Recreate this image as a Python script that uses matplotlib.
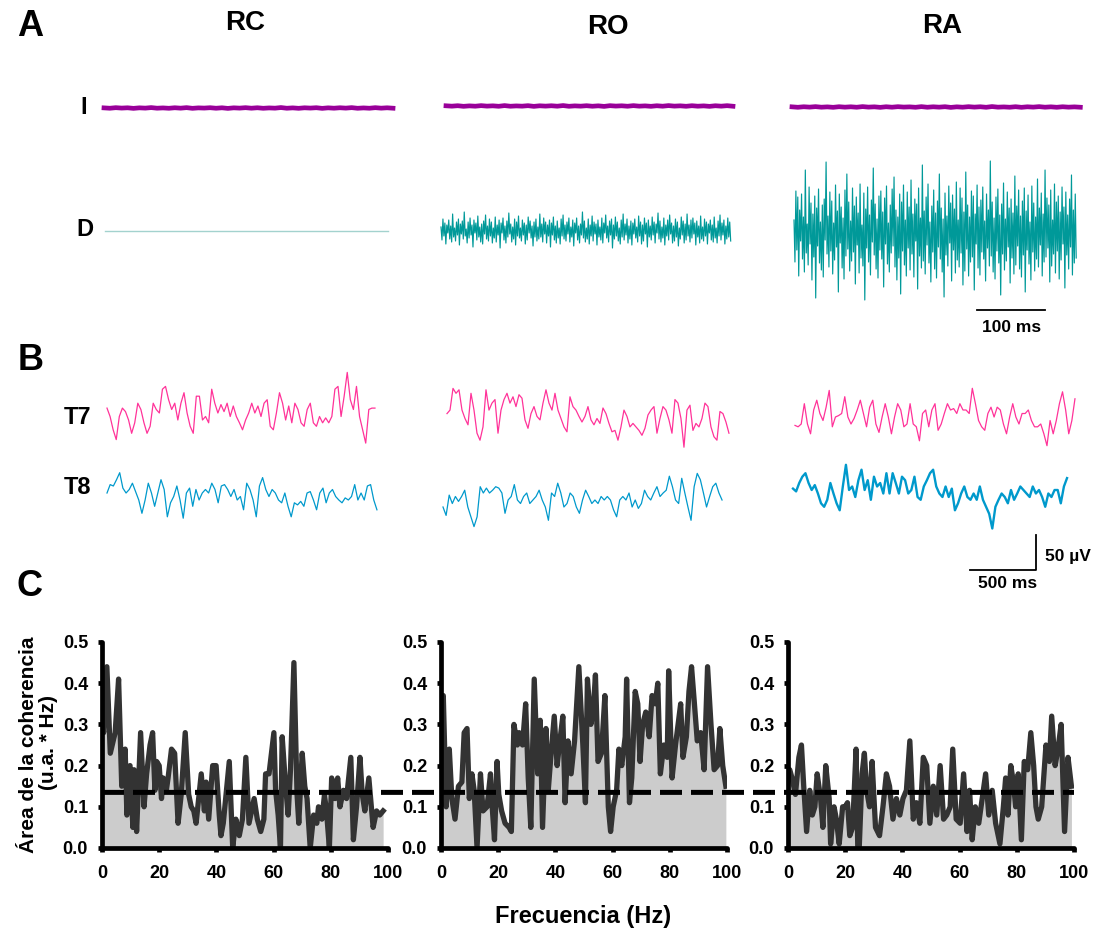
import numpy as np
import matplotlib
matplotlib.use('Agg')
import matplotlib.pyplot as plt
from matplotlib.patches import ConnectionPatch

# ---------------- data ----------------
conditions = ['RC', 'RO', 'RA']

# Panel A: I traces (small fluctuations, arbitrary units)
I_RC = [0.3, -0.6, 0.8, -0.2, 0.5, -0.9, 0.4, -0.3, 1.0, -0.5, 0.2, -0.7, 0.6, -0.4, 0.9, -0.8, 0.3, -0.2, 0.7, -0.6,
        0.5, -1.0, 0.4, -0.3, 0.8, -0.5, 0.6, -0.7, 0.2, -0.4, 1.1, -0.6, 0.3, -0.8, 0.5, -0.2, 0.7, -0.9, 0.4, -0.5,
        0.6, -0.3, 0.9, -0.7, 0.2, -0.6, 0.8, -0.4, 0.5, -0.5]
I_RO = [0.5, -0.4, 0.7, -0.8, 0.3, -0.5, 0.9, -0.3, 0.4, -0.7, 1.0, -0.6, 0.2, -0.4, 0.8, -0.9, 0.5, -0.3, 0.6, -0.5,
        1.1, -0.7, 0.3, -0.4, 0.7, -0.6, 0.4, -1.0, 0.8, -0.2, 0.5, -0.6, 0.9, -0.4, 0.3, -0.8, 0.6, -0.5, 1.0, -0.3,
        0.4, -0.7, 0.7, -0.5, 0.3, -0.9, 0.6, -0.4, 0.8, -0.6]
I_RA = [0.4, -0.7, 0.6, -0.3, 0.9, -0.5, 0.3, -0.8, 0.7, -0.4, 0.5, -0.6, 1.0, -0.3, 0.4, -0.9, 0.6, -0.5, 0.8, -0.2,
        0.3, -0.7, 0.9, -0.6, 0.5, -0.4, 0.7, -1.0, 0.4, -0.5, 0.8, -0.3, 0.6, -0.7, 1.1, -0.4, 0.2, -0.6, 0.7, -0.8,
        0.5, -0.3, 0.9, -0.5, 0.4, -0.7, 0.6, -0.4, 0.3, -0.6]

# Panel A: D traces (arbitrary units)
D_RC = [0.0, 0.0]
D_RO = [4, -9, 12, -5, 8, -13, 6, -2, 11, -8, 5, -11, 17, -6, 3, -10, 9, -4, 12, -14,
        7, -3, 10, -8, 19, -5, 2, -12, 9, -7, 13, -4, 6, -16, 11, -2, 8, -9, 15, -6,
        4, -11, 7, -13, 10, -3, 16, -8, 5, -10, 12, -5, 9, -12, 3, -7, 14, -11, 6, -4,
        11, -17, 8, -2, 13, -9, 5, -12, 10, -6, 18, -3, 7, -11, 4, -8, 12, -14, 9, -5,
        15, -7, 3, -10, 11, -4, 8, -13, 6, -9, 14, -2, 10, -7, 5, -15, 9, -6, 12, -10,
        4, -8, 17, -6, 7, -11, 13, -3, 9, -12, 6, -5, 11, -16, 8, -4, 14, -9, 5, -12,
        10, -7, 3, -13, 12, -5, 16, -8, 6, -10, 9, -3, 13, -11, 4, -6, 11, -15, 8, -2,
        13, -9, 5, -12, 7, -4, 19, -7, 10, -11, 3, -8, 12, -13, 6, -5, 15, -10, 9, -3,
        7, -14, 11, -6, 4, -9, 13, -12, 8, -2, 16, -7, 5, -11, 10, -4, 12, -17, 6, -8,
        14, -5, 9, -10, 3, -13, 11, -6, 17, -9, 7, -4, 12, -12, 5, -8, 10, -14, 8, -3,
        12, -7, 4, -11, 15, -5, 9, -13, 6, -10, 13, -3, 8, -16, 11, -6, 5, -9, 14, -4,
        9, -12, 7, -2, 18, -8, 10, -11, 4, -7, 13, -14, 6, -5, 11, -9, 16, -3, 8, -12,
        5, -10, 12, -6, 9, -15, 3, -8, 14, -4, 10, -12, 7, -9, 17, -5, 6, -11, 11, -7,
        13, -3, 8, -14, 10, -6, 5, -12, 15, -8, 4, -10, 12, -5, 9, -13, 7, -2, 11, -9,
        6, -11, 14, -7, 3, -12, 10, -5, 16, -9, 8, -4, 11, -13, 5, -8, 13, -6, 9, -10]
D_RA = [12, -30, 41, -18, 35, -44, 22, -9, 38, -27, 15, -40, 62, -21, 8, -33, 45, -12, 29, -48,
        18, -25, 36, -66, 24, -14, 43, -31, 10, -38, 27, -45, 33, -8, 70, -22, 16, -35, 40, -19,
        31, -42, 9, -28, 47, -15, 21, -60, 38, -11, 25, -36, 14, -47, 42, -24, 58, -17, 30, -39,
        11, -29, 44, -20, 26, -52, 35, -13, 19, -41, 48, -26, 7, -34, 39, -68, 23, -16, 45, -30,
        17, -43, 32, -10, 64, -23, 28, -37, 13, -46, 36, -18, 41, -27, 20, -55, 34, -12, 46, -32,
        9, -40, 27, -21, 43, -14, 55, -35, 22, -48, 15, -26, 38, -62, 30, -19, 47, -33, 12, -44,
        40, -16, 25, -38, 52, -22, 18, -45, 33, -9, 28, -57, 44, -24, 14, -36, 67, -29, 21, -42,
        35, -13, 48, -31, 10, -50, 26, -20, 42, -37, 19, -46, 31, -15, 58, -27, 24, -40, 13, -65,
        39, -23, 16, -34, 46, -11, 29, -49, 37, -18, 23, -41, 50, -28, 12, -35, 44, -21, 34, -53,
        20, -39, 60, -17, 27, -44, 15, -30, 41, -25, 36, -58, 18, -12, 47, -36, 25, -43, 32, -20,
        45, -27, 11, -49, 38, -16, 22, -34, 71, -24, 30, -40, 14, -47, 35, -19, 43, -31, 17, -63,
        28, -22, 49, -38, 13, -29, 40, -15, 24, -51, 33, -26, 19, -42, 56, -33, 26, -14, 42, -37,
        16, -45, 31, -23, 44, -60, 21, -18, 37, -32, 10, -48, 46, -20, 29, -39, 15, -27, 53, -35,
        24, -13, 39, -44, 18, -30, 62, -25, 34, -16, 27, -50, 42, -34, 12, -22, 48, -41, 30, -19,
        36, -47, 20, -28, 45, -12, 25, -56, 40, -23, 17, -37, 33, -15, 57, -43, 22, -31, 38, -26]

# Panel B: EEG traces (µV)
T7_RC = [7, -5, -24, -38, -5, 7, 2, -10, -29, -14, 14, 5, -14, -29, -19, 14, 5, 0, 34, 38, 19, 5, 14, -10, 14, 29, 0,
         -19, -29, 24, 24, -10, -5, -14, 34, 14, 0, 12, 2, 14, -5, 10, -5, -14, -24, -10, 0, 14, 0, 10, -5, 14, 19, -19,
         -24, 0, 29, 14, -10, 10, -14, 14, 5, -14, -19, 5, 14, -14, -19, -5, -14, -7, -14, -5, 34, 38, -5, 24, 58, 19,
         5, 38, -5, -24, -43, 5, 7, 7]
T8_RC = [0, 12, 10, 19, 29, 7, 0, 5, 14, 2, -10, -29, -10, 14, 0, -19, 0, 19, 5, -34, -14, -5, 10, -10, -36, 0, 7, -19,
         5, -10, 0, 5, 0, 14, 5, -14, 10, 12, 5, -5, 5, -10, -5, -24, 14, 5, -10, -34, 10, 22, 5, -5, 5, 0, -10, -14, 0,
         -19, -34, -14, -17, -12, -19, 0, 2, -10, -24, 0, 7, -14, 0, 5, -5, -10, -14, -7, -10, -5, 12, -10, 0, -10, 10,
         12, -10, -24]
T7_RO = [2, 7, 38, 31, 36, 7, -5, -14, 31, 7, -26, -36, -17, 36, 7, 17, 22, -26, 7, 22, 31, 17, 26, 12, 29, 24, -7, -19,
         2, 12, -2, -7, 17, 36, 17, 7, 31, 7, -5, -17, -24, 26, 12, 7, -2, -10, -2, 12, -7, -14, -5, -12, 10, 2, -12, -24,
         -22, -36, -17, 7, -2, -17, -12, -17, -22, -29, -19, 0, 7, 12, -26, -5, 12, 7, -7, -26, 22, 17, -5, -46, 7, 14,
         -22, -12, -17, -5, 17, 12, -17, -31, -36, 5, 2, -10, -26]
T8_RO = [-10, -22, 7, -5, 5, -2, 5, 14, -10, -24, -38, -24, 19, 10, 17, 10, 14, 19, 17, 10, -19, 0, 5, 22, 0, -5, 5, 10,
         -5, 0, 5, 14, 0, -10, -29, 10, 5, 24, 10, -10, -5, 10, 5, -10, -19, 0, 14, 5, -5, 0, -5, 5, 0, 5, 0, -14, -24, 0,
         5, 0, 10, -10, 0, -12, -5, 14, 5, 0, 10, 19, 5, 10, 14, 34, 19, 0, -5, 31, 10, -10, -29, 19, 38, 29, 10, -10, 5,
         19, 24, 10, 0]
T7_RA = [-12, -14, -10, 19, -10, -24, 10, 24, 5, -5, 14, 38, -14, 0, 2, 5, 29, 0, -10, -2, 10, 24, 5, -14, 14, 24, -10,
         -22, 0, 19, 0, -24, 0, 19, 10, -14, -10, 19, -10, -14, -34, 5, 10, -14, 10, 19, -19, -10, 5, 19, 10, 12, 5, 19,
         10, 10, 5, 41, 19, -5, -14, -19, 5, 14, 0, 14, 10, -10, -24, 0, 19, 0, -10, 5, 5, 10, -5, -14, -14, -10, -24,
         -41, -5, -24, -5, 19, 36, 10, -24, -5, 26]
T8_RA = [2, -2, 10, 19, 24, 10, 0, 7, -5, -19, -24, -14, 10, -5, -19, -29, 5, 36, 0, 5, -10, 14, 29, 0, 14, -14, 19, 5,
         10, -5, 24, -5, 24, 10, -5, 19, 14, -5, 0, 19, -10, -14, 5, 14, 24, 29, 5, -5, -10, 5, -10, 2, -29, -19, -5, 5,
         -10, -14, -5, -14, 5, -14, -24, -34, -55, -24, -14, -5, -10, -19, 0, -14, -5, 5, 0, -5, -10, 5, -5, 0, -10, -24,
         -5, -10, 0, 0, -19, 5, 17]

# Panel C: coherence area (u.a. * Hz) vs frequency (Hz)
RC_F = [0, 0.6, 1.7, 2.9, 4.6, 5.8, 6.9, 8.1, 8.7, 9.8, 10.8, 11.2, 12.1, 13.5, 14.7, 15.6, 16.8, 17.7, 18.5, 19.1,
        20.0, 20.8, 21.4, 22.5, 23.1, 24.3, 25.4, 26.6, 27.7, 29.1, 30.3, 31.2, 32.1, 32.9, 34.7, 35.8, 36.4, 37.3, 38.7,
        39.9, 41.0, 41.6, 42.4, 44.5, 45.7, 46.8, 48.0, 49.1, 50.3, 51.4, 53.2, 54.3, 55.5, 56.6, 57.2, 58.4, 60.1, 60.7,
        61.6, 62.4, 63.0, 64.2, 65.1, 65.9, 67.1, 68.2, 68.8, 70.0, 70.9, 71.7, 72.8, 74.0, 75.1, 75.7, 76.9, 77.8, 78.6,
        79.5, 80.3, 81.5, 82.4, 83.2, 84.4, 85.5, 87.0, 87.9, 89.0, 90.2, 91.0, 91.9, 93.3, 94.8, 96.0, 97.1, 98.3]
RC_C = [0.30, 0.28, 0.44, 0.23, 0.28, 0.41, 0.15, 0.24, 0.08, 0.20, 0.05, 0.19, 0.04, 0.28, 0.10, 0.18, 0.25, 0.28,
        0.14, 0.21, 0.20, 0.12, 0.17, 0.14, 0.17, 0.24, 0.23, 0.06, 0.13, 0.28, 0.13, 0.10, 0.09, 0.06, 0.18, 0.09, 0.16,
        0.07, 0.20, 0.20, 0.08, 0.03, 0.06, 0.21, 0.0, 0.07, 0.03, 0.07, 0.22, 0.06, 0.12, 0.07, 0.04, 0.07, 0.18, 0.18,
        0.28, 0.14, 0.08, 0.0, 0.27, 0.15, 0.08, 0.19, 0.45, 0.13, 0.06, 0.23, 0.15, 0.12, 0.0, 0.08, 0.06, 0.10, 0.07,
        0.13, 0.08, 0.0, 0.17, 0.12, 0.17, 0.10, 0.14, 0.12, 0.22, 0.02, 0.10, 0.22, 0.13, 0.09, 0.17, 0.05, 0.09, 0.08,
        0.09]
RO_F = [0, 0.8, 1.8, 2.9, 3.8, 4.9, 6.1, 7.3, 8.1, 9.1, 9.9, 10.8, 11.6, 12.6, 13.8, 14.7, 16.1, 17.3, 17.9, 18.7,
        19.6, 20.2, 21.2, 22.4, 23.8, 24.6, 25.5, 26.7, 27.3, 28.5, 29.6, 30.5, 31.4, 32.6, 33.8, 34.7, 35.5, 36.7, 37.5,
        38.5, 39.6, 40.6, 41.4, 42.6, 43.4, 44.4, 45.5, 46.7, 48.2, 49.6, 50.5, 51.2, 52.4, 53.2, 54.0, 54.9, 56.1, 57.3,
        58.5, 59.3, 60.2, 61.4, 62.2, 63.2, 64.4, 64.9, 65.9, 66.7, 67.9, 68.8, 69.6, 70.5, 71.6, 72.8, 73.8, 74.9, 75.8,
        76.7, 77.9, 79.1, 79.6, 80.8, 82.0, 82.9, 83.8, 84.6, 85.8, 86.7, 87.6, 88.5, 89.6, 90.8, 92.0, 93.2, 94.4, 95.5,
        96.7, 97.5, 98.5, 99.6]
RO_C = [0.35, 0.37, 0.10, 0.24, 0.12, 0.07, 0.15, 0.16, 0.28, 0.29, 0.12, 0.18, 0.14, 0.0, 0.18, 0.09, 0.10, 0.18, 0.10,
        0.02, 0.21, 0.13, 0.09, 0.06, 0.05, 0.04, 0.30, 0.25, 0.28, 0.25, 0.35, 0.17, 0.05, 0.41, 0.18, 0.31, 0.05, 0.29,
        0.14, 0.23, 0.32, 0.20, 0.25, 0.32, 0.11, 0.26, 0.18, 0.26, 0.44, 0.25, 0.11, 0.41, 0.30, 0.33, 0.42, 0.21, 0.23,
        0.37, 0.10, 0.04, 0.10, 0.14, 0.24, 0.20, 0.27, 0.41, 0.11, 0.17, 0.38, 0.35, 0.21, 0.30, 0.33, 0.27, 0.37, 0.35,
        0.40, 0.18, 0.25, 0.22, 0.43, 0.17, 0.25, 0.30, 0.35, 0.22, 0.27, 0.38, 0.44, 0.36, 0.26, 0.28, 0.19, 0.44, 0.30,
        0.19, 0.20, 0.29, 0.20, 0.15]
RA_F = [0, 0.6, 1.4, 2.6, 3.8, 4.7, 5.5, 6.5, 7.6, 8.5, 9.4, 10.2, 11.4, 12.2, 13.2, 14.4, 14.9, 16.1, 16.9, 17.9,
        19.1, 20.0, 20.8, 21.6, 22.6, 23.8, 24.4, 24.9, 25.9, 26.7, 27.5, 28.5, 29.4, 30.6, 32.0, 33.2, 34.4, 35.5, 36.7,
        37.9, 39.1, 40.2, 41.4, 42.6, 43.8, 44.9, 46.1, 47.3, 48.5, 49.6, 50.8, 52.0, 53.2, 54.4, 55.5, 56.7, 57.6, 58.8,
        60.2, 61.4, 62.6, 63.5, 64.4, 65.5, 66.7, 67.9, 69.1, 70.2, 71.4, 72.6, 74.1, 75.3, 76.1, 76.9, 77.9, 78.8, 79.6,
        80.5, 81.6, 82.6, 83.8, 84.9, 85.9, 86.7, 87.5, 88.7, 90.2, 91.4, 92.2, 93.4, 94.4, 95.5, 96.7, 97.9, 99.1]
RA_C = [0.19, 0.19, 0.17, 0.13, 0.22, 0.25, 0.15, 0.04, 0.14, 0.08, 0.10, 0.18, 0.12, 0.05, 0.20, 0.12, 0.01, 0.10, 0.07,
        0.01, 0.10, 0.10, 0.11, 0.03, 0.05, 0.24, 0.0, 0.0, 0.18, 0.23, 0.14, 0.10, 0.21, 0.05, 0.03, 0.10, 0.18, 0.15,
        0.07, 0.12, 0.08, 0.12, 0.14, 0.26, 0.07, 0.11, 0.06, 0.22, 0.20, 0.06, 0.15, 0.08, 0.20, 0.07, 0.08, 0.10, 0.24,
        0.07, 0.06, 0.18, 0.04, 0.14, 0.02, 0.10, 0.06, 0.12, 0.18, 0.08, 0.14, 0.06, 0.01, 0.10, 0.17, 0.08, 0.20, 0.16,
        0.10, 0.18, 0.02, 0.21, 0.19, 0.28, 0.20, 0.10, 0.07, 0.10, 0.25, 0.21, 0.32, 0.20, 0.24, 0.30, 0.04, 0.22, 0.15]
threshold = 0.135
freq_ticks = [0, 20, 40, 60, 80, 100]
coh_ticks = [0.0, 0.1, 0.2, 0.3, 0.4, 0.5]

# ---------------- style ----------------
plt.rcParams['font.family'] = ['Liberation Sans', 'DejaVu Sans']
plt.rcParams['font.weight'] = 'bold'
plt.rcParams['axes.labelweight'] = 'bold'

W, H = 1101, 934
fig = plt.figure(figsize=(W / 100, H / 100), dpi=100)

PURPLE = '#990099'
TEAL = '#009999'
TEAL_LIGHT = '#a3d2ce'
PINK = '#ff3399'
BLUE = '#0099cc'


def px_axes(x0, y0, w, h):
    return fig.add_axes([x0 / W, 1 - (y0 + h) / H, w / W, h / H])


def trace(x0, yc, values, dur, px_per_t, px_per_unit, color, lw, half_h=90, alpha=1.0):
    w = dur * px_per_t
    ax = px_axes(x0, yc - half_h, w, 2 * half_h)
    t = np.linspace(0, dur, len(values))
    ax.plot(t, values, color=color, lw=lw, clip_on=False, alpha=alpha)
    ax.set_xlim(0, dur)
    ax.set_ylim(-half_h / px_per_unit, half_h / px_per_unit)
    ax.axis('off')
    return ax


def ftext(x, y, s, size, **kw):
    fig.text(x / W, 1 - y / H, s, fontsize=size, fontweight='bold', ha=kw.pop('ha', 'center'),
             va=kw.pop('va', 'center'), **kw)


# ---------------- Panel A ----------------
pxA = 68 / 100.0  # px per ms
trace(104, 108, I_RC, 425, pxA, 0.4, PURPLE, 3.4)
trace(446, 106, I_RO, 422, pxA, 0.4, PURPLE, 3.4)
trace(792, 107, I_RA, 424, pxA, 0.4, PURPLE, 3.4)
trace(105, 231, D_RC, 416, pxA, 1.0, TEAL_LIGHT, 1.0)
trace(441, 231, D_RO, 426, pxA, 1.0, TEAL, 0.85)
trace(794, 232, D_RA, 415, pxA, 1.0, TEAL, 0.85)

axbA = px_axes(977, 305, 68, 10)
axbA.plot([0, 100], [0, 0], color='black', lw=1.3, clip_on=False)
axbA.set_xlim(0, 100)
axbA.set_ylim(-1, 1)
axbA.axis('off')
ftext(1012, 327, '100 ms', 12.5)

# ---------------- Panel B ----------------
pxB = 66 / 500.0  # px per ms
uv = 35 / 50.0    # px per µV
trace(107, 413, T7_RC, 2030, pxB, uv, PINK, 0.9, half_h=45)
trace(107, 493, T8_RC, 2045, pxB, uv, BLUE, 0.9, half_h=45)
trace(447, 415, T7_RO, 2136, pxB, uv, PINK, 0.9, half_h=45)
trace(443, 500, T8_RO, 2114, pxB, uv, BLUE, 0.9, half_h=45)
trace(795, 417, T7_RA, 2121, pxB, uv, PINK, 0.9, half_h=45)
trace(793, 490, T8_RA, 2076, pxB, uv, BLUE, 1.7, half_h=45)

axbB = px_axes(970, 535, 66, 35)
axbB.plot([0, 500, 500], [0, 0, 50], color='black', lw=1.3, clip_on=False)
axbB.set_xlim(0, 500)
axbB.set_ylim(0, 50)
axbB.axis('off')
ftext(1045, 557, '50 µV', 12.5, ha='left')
ftext(1008, 584, '500 ms', 12.5)

# ---------------- Panel C ----------------
cdata = [(RC_F, RC_C), (RO_F, RO_C), (RA_F, RA_C)]
xs = [102, 441, 788]
axesC = []
for x0, (f, c) in zip(xs, cdata):
    ax = px_axes(x0, 642, 286, 206)
    ax.fill_between(f, c, 0, color='#cccccc', lw=0)
    ax.plot(f, c, color='#333333', lw=3.8, solid_joinstyle='round')
    ax.set_xlim(0, 100)
    ax.set_ylim(0, 0.5)
    ax.set_xticks(freq_ticks)
    ax.set_yticks(coh_ticks)
    ax.set_yticklabels(['%.1f' % v for v in coh_ticks])
    for side in ['top', 'right']:
        ax.spines[side].set_visible(False)
    for side in ['left', 'bottom']:
        ax.spines[side].set_linewidth(3.4)
        ax.spines[side].set_capstyle('round')
    ax.tick_params(length=3, width=3.4, direction='out', labelsize=13, pad=7)
    ax.tick_params(axis='x', pad=9)
    for lab in ax.get_xticklabels() + ax.get_yticklabels():
        lab.set_fontweight('bold')
    ax.set_facecolor('none')
    axesC.append(ax)

con = ConnectionPatch(xyA=(0, threshold), coordsA=axesC[0].transData,
                      xyB=(100, threshold), coordsB=axesC[2].transData,
                      color='black', lw=3.6, linestyle=(0, (4.4, 1.8)), capstyle='butt')
fig.add_artist(con)

ftext(29, 745, 'Área de la coherencia', 15, rotation=90)
ftext(49, 743, '(u.a. * Hz)', 15, rotation=90)
ftext(583, 916, 'Frecuencia (Hz)', 17)

# ---------------- labels ----------------
ftext(30, 27, 'A', 26)
ftext(31, 361, 'B', 26)
ftext(29, 586, 'C', 26)
for name, (x, y) in zip(conditions, [(245, 23), (608, 27), (942, 26)]):
    ftext(x, y, name, 20)
ftext(84, 108, 'I', 17)
ftext(85, 229, 'D', 17)
ftext(77, 417, 'T7', 17)
ftext(77, 487, 'T8', 17)

fig.savefig('out.png', dpi=100)
